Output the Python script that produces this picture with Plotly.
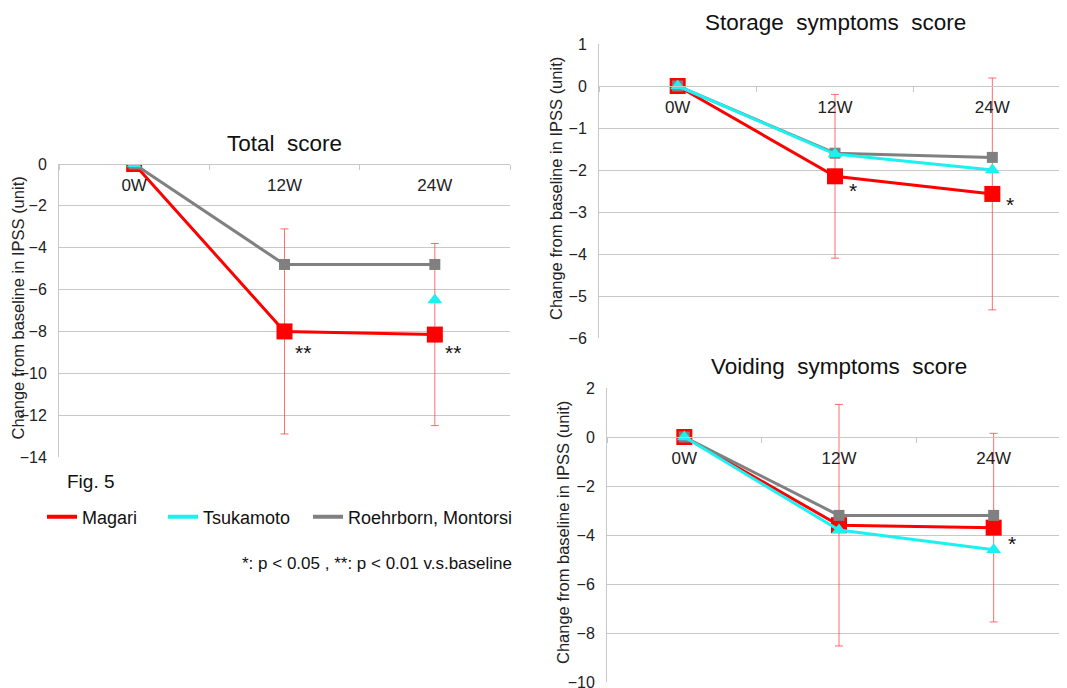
import plotly.graph_objects as go

W, H = 1067, 688
OFF = 8  # default page body margin
categories = ["0W", "12W", "24W"]

# Total score
total_magari = [0, -8.0, -8.15]
total_magari_err = [0, 4.9, 4.35]
total_tsukamoto = [0, None, -6.5]
total_roehrborn = [0, -4.8, -4.8]
total_sig = [(1, -9.0, "**"), (2, -9.0, "**")]

# Storage symptoms score
storage_magari = [0, -2.15, -2.57]
storage_magari_err = [0, 1.95, 2.76]
storage_tsukamoto = [0, -1.62, -2.0]
storage_roehrborn = [0, -1.6, -1.7]
storage_sig = [(1, -2.48, "*"), (2, -2.83, "*")]

# Voiding symptoms score
voiding_magari = [0, -3.6, -3.7]
voiding_magari_err = [0, 4.93, 3.85]
voiding_tsukamoto = [0, -3.8, -4.6]
voiding_roehrborn = [0, -3.2, -3.2]
voiding_sig = [(2, -4.33, "*")]

series_names = ["Magari", "Tsukamoto", "Roehrborn, Montorsi"]
panel_titles = ["Total\u00a0 score", "Storage\u00a0 symptoms\u00a0 score", "Voiding\u00a0 symptoms\u00a0 score"]
y_title = "Change from baseline in IPSS (unit)"
RED = "#FF0000"
CYAN = "#1CF0F0"
GRAY = "#808080"
GRID = "#C8C8C8"
FONT = "Liberation Sans, Arial, sans-serif"

def px_x(p):
    return (p - OFF) / W

def px_y(p):
    return 1 - (p - OFF) / H

panels = [
    dict(name=panel_titles[0], magari=total_magari, err=total_magari_err, tsu=total_tsukamoto,
         roe=total_roehrborn, sig=total_sig, xd=(59, 510), yd=(164, 457), yr=(-14, 0), dt=2,
         title_y=143, ytx=18, ax=""),
    dict(name=panel_titles[1], magari=storage_magari, err=storage_magari_err, tsu=storage_tsukamoto,
         roe=storage_roehrborn, sig=storage_sig, xd=(599, 1071), yd=(44, 338), yr=(-6, 1), dt=1,
         title_y=22, ytx=556, ax="2"),
    dict(name=panel_titles[2], magari=voiding_magari, err=voiding_magari_err, tsu=voiding_tsukamoto,
         roe=voiding_roehrborn, sig=voiding_sig, xd=(607, 1071), yd=(388, 682), yr=(-10, 2), dt=2,
         title_y=366, ytx=563, ax="3"),
]

fig = go.Figure()
annotations = []
layout = {}

for p in panels:
    xa = "x" + p["ax"]
    ya = "y" + p["ax"]
    fig.add_trace(go.Scatter(
        x=categories, y=p["magari"], xaxis=xa, yaxis=ya, mode="lines+markers",
        line=dict(color=RED, width=3), marker=dict(symbol="square", size=16, color=RED),
        error_y=dict(type="data", array=p["err"], symmetric=True, color="rgba(255,60,60,0.75)",
                     thickness=1, width=4),
        showlegend=False, name=series_names[0]))
    fig.add_trace(go.Scatter(
        x=categories, y=p["roe"], xaxis=xa, yaxis=ya, mode="lines+markers",
        line=dict(color=GRAY, width=3), marker=dict(symbol="square", size=11, color=GRAY),
        showlegend=False, name=series_names[2]))
    fig.add_trace(go.Scatter(
        x=categories, y=p["tsu"], xaxis=xa, yaxis=ya, mode="lines+markers",
        line=dict(color=CYAN, width=3), marker=dict(symbol="triangle-up", size=13, color=CYAN),
        connectgaps=False, showlegend=False, name=series_names[1]))

    y0, y1 = p["yr"]
    dom_bottom = px_y(p["yd"][1])
    dom_top = px_y(p["yd"][0])
    zero_pos = dom_bottom + (0 - y0) / (y1 - y0) * (dom_top - dom_bottom)
    xkey = "xaxis" + p["ax"]
    ykey = "yaxis" + p["ax"]
    layout[xkey] = dict(
        domain=[px_x(p["xd"][0]), min(1.0, px_x(p["xd"][1]))], anchor="free", position=zero_pos,
        type="category", range=[-0.5, 2.5], showgrid=False, showline=True, linecolor=GRID,
        linewidth=1, ticks="outside", tickson="boundaries", ticklen=5, tickcolor=GRID,
        tickfont=dict(family=FONT, size=17, color="#222"), side="bottom", fixedrange=True,
        automargin=False, ticklabelstandoff=6)
    layout[ykey] = dict(
        domain=[dom_bottom, dom_top], anchor=xa, range=[y0, y1], dtick=p["dt"],
        showgrid=True, gridcolor=GRID, gridwidth=1, zeroline=False, showline=True,
        linecolor=GRID, linewidth=1, ticks="", tickfont=dict(family=FONT, size=16, color="#222"),
        ticklabelstandoff=8, fixedrange=True, automargin=False)
    cx = (p["xd"][0] + p["xd"][1]) / 2
    annotations.append(dict(text=p["name"], x=px_x(cx), y=px_y(p["title_y"]), xref="paper", yref="paper",
                            showarrow=False, xanchor="center", yanchor="middle",
                            font=dict(family=FONT, size=22.5, color="#111")))
    annotations.append(dict(text=y_title, x=px_x(p["ytx"]), y=px_y((p["yd"][0] + p["yd"][1]) / 2 - 2),
                            xref="paper", yref="paper", showarrow=False, textangle=-90,
                            xanchor="center", yanchor="middle",
                            font=dict(family=FONT, size=16.5, color="#222")))
    for (ci, yv, txt) in p["sig"]:
        annotations.append(dict(text=txt, x=ci, y=yv, xref=xa, yref=ya, showarrow=False,
                                xshift=18, xanchor="center", yanchor="middle",
                                font=dict(family=FONT, size=21, color="#111")))

# Legend-only traces (three separate legends)
legend_colors = [RED, CYAN, GRAY]
legend_x = [42, 163, 308]
for i, (nm, col) in enumerate(zip(series_names, legend_colors)):
    lg = "legend" if i == 0 else "legend%d" % (i + 1)
    fig.add_trace(go.Scatter(x=[None], y=[None], mode="lines", line=dict(color=col, width=4),
                             name=nm, legend=lg, showlegend=True))
    layout[lg] = dict(x=px_x(legend_x[i]), y=px_y(517), xanchor="left", yanchor="middle",
                      bgcolor="rgba(0,0,0,0)", font=dict(family=FONT, size=18, color="#111"),
                      itemwidth=30)

annotations.append(dict(text="Fig. 5", x=px_x(65), y=px_y(481), xref="paper", yref="paper",
                        showarrow=False, xanchor="left", yanchor="middle",
                        font=dict(family=FONT, size=19, color="#111")))
annotations.append(dict(text="*: p < 0.05 , **: p < 0.01 v.s.baseline", x=px_x(514), y=px_y(563),
                        xref="paper", yref="paper", showarrow=False, xanchor="right", yanchor="middle",
                        font=dict(family=FONT, size=17, color="#111")))

fig.update_layout(
    width=W, height=H, margin=dict(l=0, r=0, t=0, b=0, pad=0),
    paper_bgcolor="white", plot_bgcolor="white", annotations=annotations, **layout)

fig.write_html("out.html")
